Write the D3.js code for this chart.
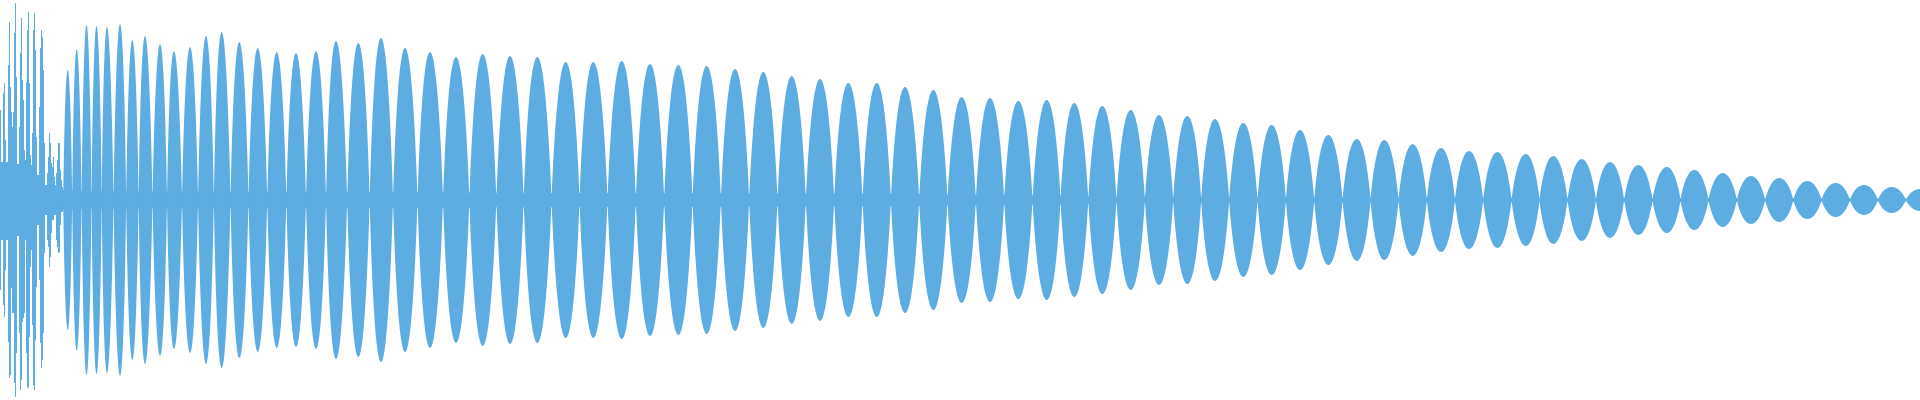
<!DOCTYPE html>
<html>
<head>
<meta charset="utf-8">
<script src="https://cdn.jsdelivr.net/npm/d3@7"></script>
<style>
  body { margin: 0; background: #fff; overflow: hidden; }
</style>
</head>
<body>
<div id="wave"></div>
<script>
// waveform, amplitude in px-ish units around the centre line

// left edge: one column per pixel (0..62), amplitude above / below centre
var colUp = [90, 38, 38, 107, 117, 60, 38, 38, 135, 178, 113, 88, 73, 88, 167, 197, 123, 36, 36, 73,
  147, 182, 120, 100, 50, 40, 118, 170, 188, 117, 45, 35, 67, 170, 187, 150, 63, 25, 25, 93,
  152, 170, 163, 130, 57, 15, 15, 27, 43, 67, 57, 37, 33, 43, 23, 15, 27, 40, 57, 57,
  30, 20, 13];
var colDown = [90, 40, 40, 105, 117, 70, 40, 40, 142, 178, 175, 88, 113, 113, 183, 197, 153, 36, 36, 133,
  190, 180, 122, 118, 113, 40, 153, 188, 187, 137, 67, 50, 125, 185, 190, 140, 87, 25, 25, 80,
  143, 168, 160, 133, 53, 15, 15, 40, 47, 67, 57, 33, 20, 20, 15, 15, 40, 47, 53, 52,
  25, 12, 12];

// lobes: peak position and peak amplitude
var peakX = [67.7, 76.7, 86.5, 96.5, 107, 120, 132.3, 145, 160, 174,
  190, 206, 221.7, 239.3, 257.7, 276.7, 296, 316, 336, 358.3,
  381, 405, 430, 456, 482.7, 510, 537.3, 565.7, 593.3, 621.7,
  650, 678.3, 706.7, 735, 763.3, 791.7, 820, 848.3, 876.7, 905,
  933.3, 961.7, 990, 1018.3, 1046.7, 1074.3, 1102.3, 1130.7, 1159, 1187.3,
  1215, 1243.3, 1271.7, 1300, 1328.3, 1356.7, 1384.3, 1412.7, 1441, 1469,
  1497.3, 1525.7, 1553.3, 1581.7, 1610, 1638.3, 1666.7, 1694.3, 1722.7, 1751,
  1779.3, 1807.3, 1835.7, 1864, 1891.7, 1920];
var peakAmp = [130, 151, 175, 174, 173, 176, 160, 164, 156, 149,
  153, 164, 168, 158, 152, 148, 147, 149, 159, 157,
  162, 152, 148, 143, 146, 144, 143, 138, 138, 139,
  136, 135, 134, 131, 128, 124, 121, 117, 117, 113,
  110, 103, 102, 99, 100, 97, 94, 90, 85, 84,
  81, 77, 75, 70, 65, 61, 60, 56, 52, 49,
  48, 46, 44, 41, 38, 35, 33, 30, 27, 24,
  22, 19, 17, 15, 13, 11];

// thick part along the centre line
var bandX = [0, 20, 34, 44, 62, 100, 300, 600, 900, 1100, 1300, 1600, 1920];
var bandHalf = [38, 32, 24, 15, 10, 9, 8, 7, 6, 4, 3, 2, 1.5];

var svgWidth = 1920;
var svgHeight = 400;
var color = "#5dade2";

var svg = d3.select("#wave")
  .append("svg")
  .attr("width", svgWidth)
  .attr("height", svgHeight);

var xScale = d3.scaleLinear()
  .domain([0, 1920])
  .range([0, svgWidth]);

var yScale = d3.scaleLinear()
  .domain([-200, 200])
  .range([svgHeight, 0]);

// centre band
var band = bandX.map((x, i) => ({x: x, h: bandHalf[i]}));
svg.append("path")
  .datum(band)
  .attr("fill", color)
  .attr("d", d3.area()
    .x(d => xScale(d.x))
    .y0(d => yScale(-d.h))
    .y1(d => yScale(d.h))
    .curve(d3.curveMonotoneX));

// per-pixel columns on the far left
var cols = colUp.map((u, i) => ({x: i, up: u, down: colDown[i]}));
svg.selectAll("rect.col")
  .data(cols)
  .enter()
  .append("rect")
  .attr("class", "col")
  .attr("x", d => xScale(d.x))
  .attr("width", xScale(1) - xScale(0))
  .attr("y", d => yScale(d.up))
  .attr("height", d => yScale(-d.down) - yScale(d.up))
  .attr("fill", color);

// lobes, each one from the midpoint with its neighbours
var lobes = peakX.map(function(p, i) {
  var prev = i > 0 ? peakX[i - 1] : p - (peakX[1] - p);
  var next = i < peakX.length - 1 ? peakX[i + 1] : p + (p - peakX[i - 1]);
  return [
    {x: (prev + p) / 2, a: 0},
    {x: p, a: peakAmp[i]},
    {x: (p + next) / 2, a: 0}
  ];
});

// negative tension gives the fuller, pinched lobe seen in the picture
var lobeArea = d3.area()
  .x(d => xScale(d.x))
  .y0(d => yScale(-d.a))
  .y1(d => yScale(d.a))
  .curve(d3.curveCardinal.tension(-1));

svg.selectAll("path.lobe")
  .data(lobes)
  .enter()
  .append("path")
  .attr("class", "lobe")
  .attr("fill", color)
  .attr("d", lobeArea);
</script>
</body>
</html>
